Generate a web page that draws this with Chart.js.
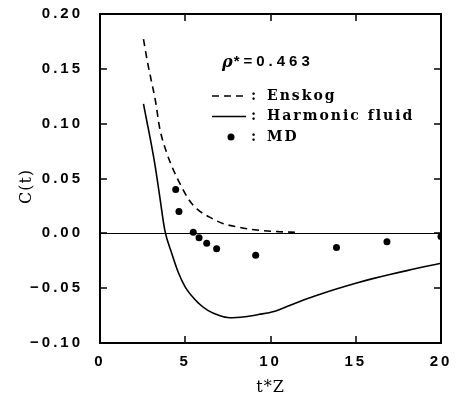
<!DOCTYPE html>
<html>
<head>
<meta charset="utf-8">
<script src="https://cdn.jsdelivr.net/npm/chart.js@4"></script>
<style>
  html, body { margin: 0; padding: 0; background: #fff; }
  #box { width: 456px; height: 397px; }
</style>
</head>
<body>
<div id="box"><canvas id="corrChart" width="456" height="397"></canvas></div>
<script>
// Enskog prediction (dashed curve)
const enskogT = [2.55, 2.8, 3.0, 3.25, 3.5, 3.9, 4.3, 4.7, 5.2, 5.7, 6.4, 7.2, 8.0, 9.2, 10.5, 11.5];
const enskogC = [0.177, 0.155, 0.140, 0.121, 0.096, 0.074, 0.058, 0.045, 0.031, 0.022, 0.015, 0.009, 0.006, 0.003, 0.0015, 0.001];

// Harmonic fluid prediction (solid curve)
const harmT = [2.55, 2.75, 3.0, 3.25, 3.5, 3.8, 4.2, 4.6, 5.0, 5.8, 6.3, 7.0, 7.6, 8.5, 9.3, 10.2, 11.0, 11.9, 13.0, 14.0, 15.0, 16.0, 17.0, 18.0, 19.0, 20.0];
const harmC = [0.118, 0.102, 0.082, 0.060, 0.034, 0.003, -0.018, -0.036, -0.049, -0.064, -0.070, -0.075, -0.077, -0.076, -0.074, -0.0712, -0.0665, -0.061, -0.055, -0.050, -0.0455, -0.0413, -0.0375, -0.034, -0.0305, -0.0273];

// MD simulation points
const mdT = [4.44, 4.63, 5.47, 5.81, 6.26, 6.84, 9.13, 13.87, 16.83, 20.0];
const mdC = [0.040, 0.020, 0.001, -0.004, -0.009, -0.014, -0.020, -0.013, -0.0076, -0.003];

// axis ticks
const xTicks = [0, 5, 10, 15, 20];
const yTicks = [-0.10, -0.05, 0.00, 0.05, 0.10, 0.15, 0.20];

const densityLabel = '0.463';
const xTitle = 't*Z';
const yTitle = 'C(t)';

function toPoints(xs, ys) {
  return xs.map((x, i) => ({ x: x, y: ys[i] }));
}

// frame with inward ticks, axis titles and the in-plot legend
const decorPlugin = {
  id: 'paperDecor',
  beforeDraw(chart) {
    chart.ctx.letterSpacing = '3px';
  },
  afterDraw(chart) {
    const ctx = chart.ctx;
    const xs = chart.scales.x, ys = chart.scales.y;
    const L = Math.round(xs.left), R = Math.round(xs.right);
    const T = Math.round(ys.top), B = Math.round(ys.bottom);
    ctx.save();
    ctx.setTransform(1, 0, 0, 1, 0, 0);
    ctx.globalAlpha = 1;
    ctx.globalCompositeOperation = 'source-over';
    ctx.letterSpacing = '0px';
    ctx.fillStyle = '#000';
    ctx.strokeStyle = '#000';

    // frame as filled bars
    const w = 2;
    ctx.fillRect(L - 1, T - 1, R - L + w, w);
    ctx.fillRect(L - 1, B - 1, R - L + w, w);
    ctx.fillRect(L - 1, T - 1, w, B - T + w);
    ctx.fillRect(R - 1, T - 1, w, B - T + w);
    // inward tick marks
    xTicks.slice(1, -1).forEach(v => {
      const px = Math.round(xs.getPixelForValue(v));
      ctx.fillRect(px - 0.75, B - 7, 1.5, 7);
      ctx.fillRect(px - 0.75, T, 1.5, 7);
    });
    yTicks.slice(1, -1).forEach(v => {
      const py = Math.round(ys.getPixelForValue(v));
      ctx.fillRect(L, py - 0.75, 7, 1.5);
      ctx.fillRect(R - 7, py - 0.75, 7, 1.5);
    });

    // axis titles
    ctx.font = '16px "DejaVu Serif"';
    ctx.letterSpacing = '1px';
    ctx.textAlign = 'center';
    ctx.textBaseline = 'middle';
    ctx.fillText(xTitle, (L + R) / 2, B + 45);
    ctx.save();
    ctx.translate(L - 73, (T + B) / 2 + 8);
    ctx.rotate(-Math.PI / 2);
    ctx.fillText(yTitle, 0, 0);
    ctx.restore();

    // density label
    ctx.textAlign = 'left';
    let x = L + 122;
    const ty = T + 48;
    ctx.letterSpacing = '0px';
    ctx.font = 'italic bold 16px "DejaVu Serif"';
    ctx.fillText('\u03c1', x, ty + 1);
    x += ctx.measureText('\u03c1').width + 1;
    ctx.letterSpacing = '4px';
    ctx.font = 'bold 15px "Liberation Sans"';
    ctx.fillText('*=' + densityLabel, x, ty);

    // legend rows
    chart.data.datasets.forEach((ds, i) => {
      const y = T + 82 + i * 20.5;
      const x0 = L + 112, x1 = L + 146;
      ctx.letterSpacing = '0px';
      if (ds.showLine) {
        ctx.lineWidth = ds.borderWidth;
        ctx.setLineDash(ds.borderDash || []);
        ctx.beginPath();
        ctx.moveTo(x0, y); ctx.lineTo(x1, y);
        ctx.stroke();
        ctx.setLineDash([]);
      } else {
        ctx.beginPath();
        ctx.arc(L + 131, y, ds.pointRadius, 0, Math.PI * 2);
        ctx.fill();
      }
      ctx.font = 'bold 14px "DejaVu Serif"';
      ctx.fillText(':', L + 151, y);
      ctx.letterSpacing = '2px';
      ctx.fillText(ds.label, L + 167, y);
    });
    ctx.restore();
  }
};

const tickFont = { family: 'Liberation Sans', size: 15, weight: 'bold' };

new Chart(document.getElementById('corrChart'), {
  type: 'scatter',
  data: {
    datasets: [
      {
        label: 'Enskog',
        data: toPoints(enskogT, enskogC),
        showLine: true,
        borderColor: '#000',
        borderWidth: 1.6,
        borderDash: [7, 5],
        pointRadius: 0,
        cubicInterpolationMode: 'monotone'
      },
      {
        label: 'Harmonic fluid',
        data: toPoints(harmT, harmC),
        showLine: true,
        borderColor: '#000',
        borderWidth: 1.6,
        pointRadius: 0,
        cubicInterpolationMode: 'monotone'
      },
      {
        label: 'MD',
        data: toPoints(mdT, mdC),
        showLine: false,
        backgroundColor: '#000',
        borderColor: '#000',
        pointRadius: 3.5,
        borderWidth: 0
      }
    ]
  },
  options: {
    responsive: false,
    animation: false,
    maintainAspectRatio: false,
    layout: { padding: { left: 0, top: 14, right: 15, bottom: 0 } },
    plugins: {
      legend: { display: false },
      tooltip: { enabled: false }
    },
    scales: {
      x: {
        type: 'linear',
        min: 0,
        max: 20,
        afterFit: s => { s.height = 54; s.paddingLeft = 0; s.paddingRight = 0; },
        afterBuildTicks: s => { s.ticks = xTicks.map(v => ({ value: v })); },
        ticks: { color: '#000', font: tickFont, padding: 10, maxRotation: 0, autoSkip: false },
        grid: { display: false, drawTicks: false },
        border: { display: false }
      },
      y: {
        type: 'linear',
        min: -0.10,
        max: 0.20,
        afterFit: s => { s.width = 100; s.paddingTop = 0; s.paddingBottom = 0; },
        afterBuildTicks: s => { s.ticks = yTicks.map(v => ({ value: v })); },
        ticks: {
          color: '#000',
          font: tickFont,
          padding: 17,
          autoSkip: false,
          callback: v => (v < 0 ? '\u2212' : '') + Math.abs(v).toFixed(2)
        },
        grid: {
          drawTicks: false,
          lineWidth: 1,
          color: c => (c.tick && Math.abs(c.tick.value) < 1e-9) ? '#000' : 'rgba(0,0,0,0)'
        },
        border: { display: false }
      }
    }
  },
  plugins: [decorPlugin]
});
</script>
</body>
</html>
